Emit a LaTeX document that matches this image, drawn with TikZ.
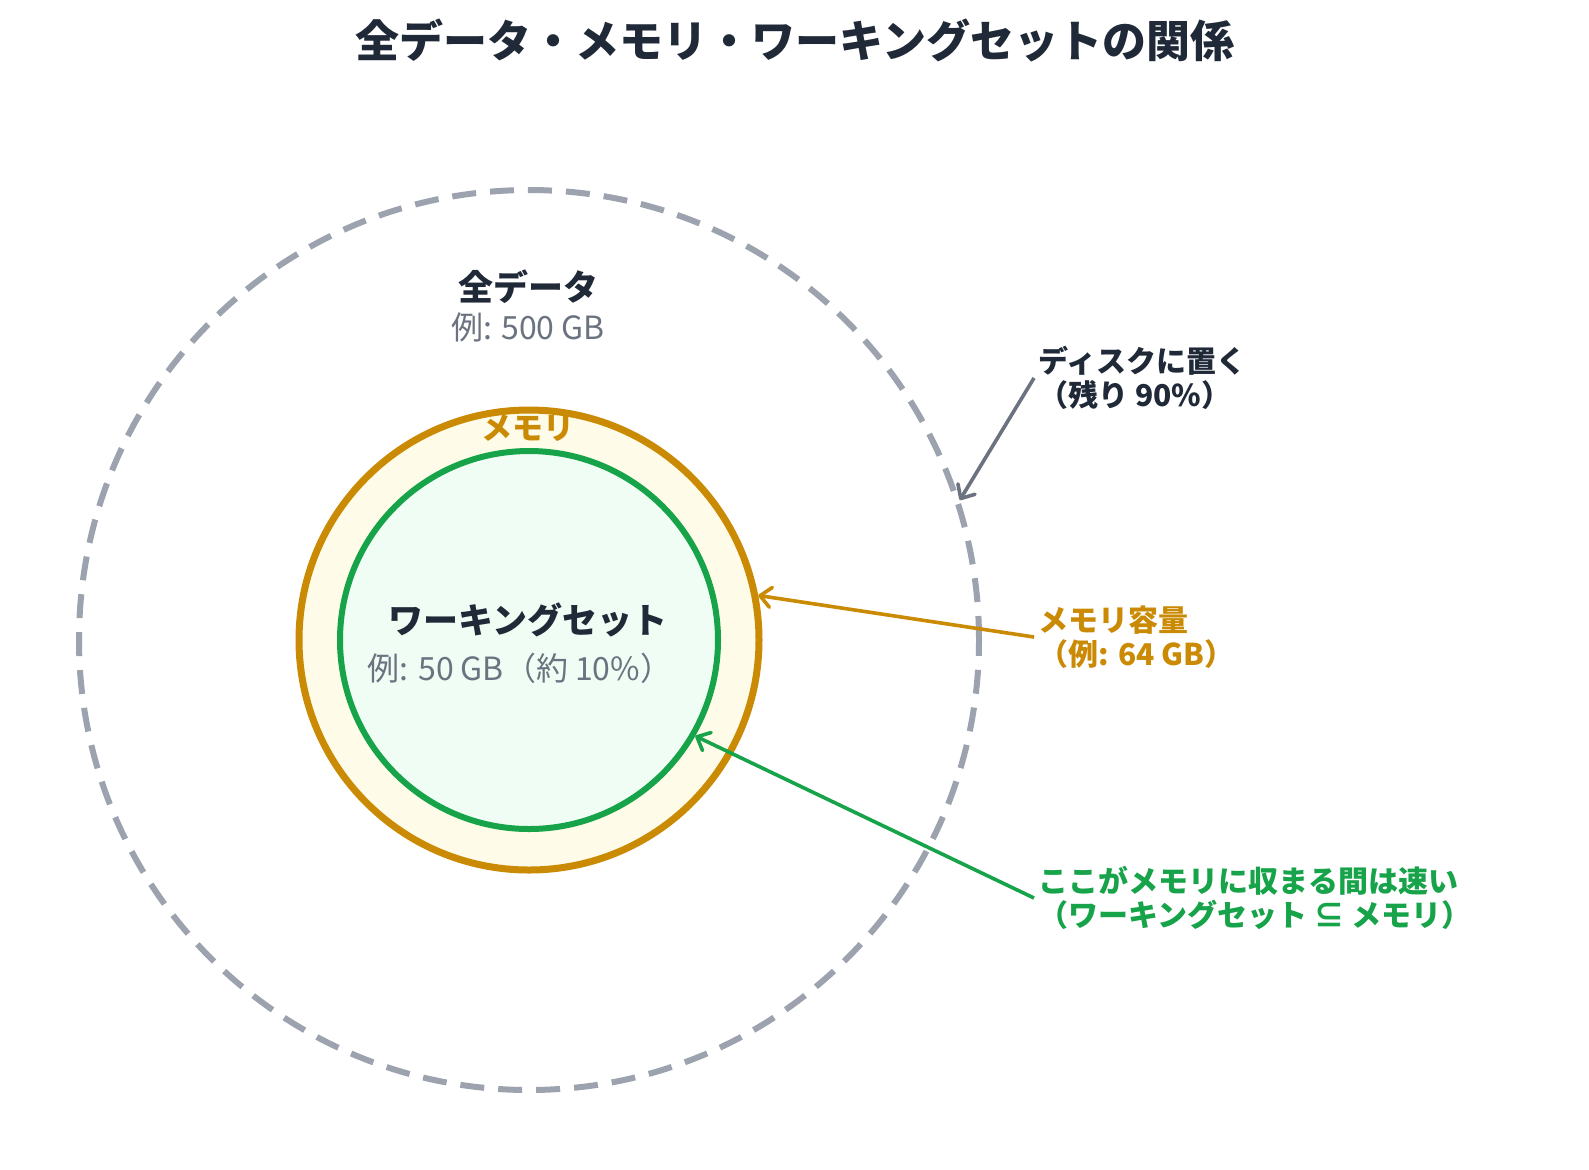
\documentclass[tikz,border=0pt]{standalone}
\usepackage{fontspec}
\setmainfont{Noto Sans CJK JP}
\usetikzlibrary{arrows.meta}

\definecolor{inkdark}{HTML}{1F2937}
\definecolor{inkgray}{HTML}{6B7280}
\definecolor{diskgray}{HTML}{9CA3AF}
\definecolor{memorange}{HTML}{CA8A04}
\definecolor{memfill}{HTML}{FEFCE8}
\definecolor{wsgreen}{HTML}{16A34A}
\definecolor{wsfill}{HTML}{F0FDF4}

\begin{document}
\begin{tikzpicture}[
    x=0.5pt, y=-0.5pt,
    ring/.style={circle, inner sep=0pt},
    heading/.style={font=\bfseries\fontsize{17.5}{21}\selectfont, text=inkdark},
    sublabel/.style={font=\fontsize{16}{19}\selectfont, text=inkgray},
    note/.style={anchor=west, align=left, inner sep=2pt,
        font=\bfseries\fontsize{15}{17}\selectfont},
    pointer/.style={-{Straight Barb[length=5.5pt, width=10pt, round]}, line width=1.8pt}
]
\fill[white] (0,0) rectangle (1589,1169);
\useasboundingbox (0,0) rectangle (1589,1169);

\node[font=\bfseries\fontsize{22}{26}\selectfont, text=inkdark] (title) at (795,40)
    {全データ・メモリ・ワーキングセットの関係};

% nested sets
\node[ring, draw=diskgray, line width=3pt, dash pattern=on 12pt off 7pt,
    minimum size=450pt] (alldata) at (529,640) {};
\node[ring, draw=memorange, fill=memfill, line width=3.5pt,
    minimum size=230pt] (memory) at (529,640) {};
\node[ring, draw=wsgreen, fill=wsfill, line width=3pt,
    minimum size=189pt] (workset) at (529,640) {};

\node[heading] (alltitle) at (528,287) {全データ};
\node[sublabel] (allsize) at (528,327) {例: 500 GB};
\node[heading, text=memorange, font=\bfseries\fontsize{15.5}{19}\selectfont] (memtitle) at (528,428) {メモリ};
\node[heading] (wstitle) at (528,620) {ワーキングセット};
\node[sublabel] (wssize) at (520,668) {例: 50 GB（約 10\%）};

% annotations
\node[note, text=inkdark] (disk) at (1034,378) {ディスクに置く\\（残り 90\%）};
\node[note, text=memorange] (memcap) at (1034,637) {メモリ容量\\（例: 64 GB）};
\node[note, text=wsgreen] (fits) at (1034,898) {ここがメモリに収まる間は速い\\（ワーキングセット ⊆ メモリ）};

\draw[pointer, inkgray] (disk.west) -- (alldata.18);
\draw[pointer, memorange] (memcap.west) -- (memory.11.5);
\draw[pointer, wsgreen] (fits.west) -- (workset.-30);

\end{tikzpicture}
\end{document}
